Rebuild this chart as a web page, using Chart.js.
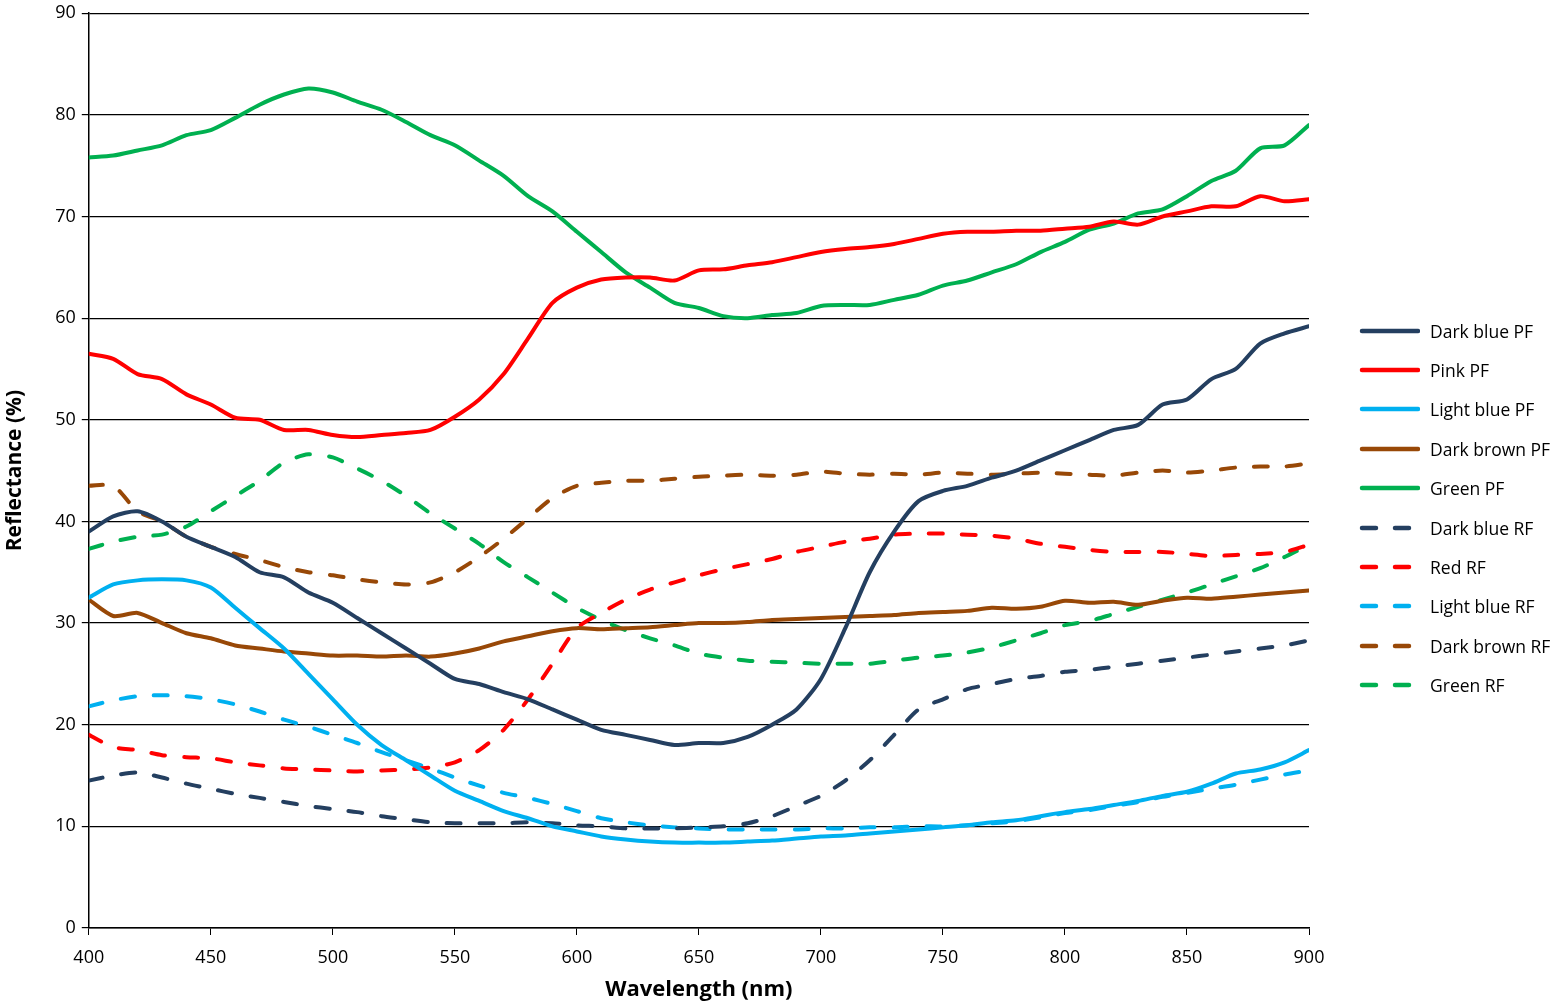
<!DOCTYPE html>
<html>
<head>
<meta charset="utf-8">
<script src="https://cdn.jsdelivr.net/npm/chart.js@4"></script>
<style>
  html, body { margin: 0; padding: 0; background: #fff; }
  #wrap { position: relative; width: 1561px; height: 1003px; }
  #leyenda { position: absolute; left: 1358px; top: 311px; font-family: "Open Sans", "DejaVu Sans", sans-serif; font-size: 17.5px; color: #000; }
  .item { height: 39.4px; display: flex; align-items: center; white-space: nowrap; }
  .item svg { width: 62px; height: 10px; margin-right: 10px; }
</style>
</head>
<body>
<div id="wrap"><canvas id="grafica"></canvas><div id="leyenda"></div></div>
<script>
// wavelength (nm), every 10 nm
const wavelengths = [400,410,420,430,440,450,460,470,480,490,500,510,520,530,540,550,560,570,580,590,600,610,620,630,640,650,660,670,680,690,700,710,720,730,740,750,760,770,780,790,800,810,820,830,840,850,860,870,880,890,900];

const darkBluePF  = [39,40.5,41,40,38.5,37.5,36.5,35,34.5,33,32,30.5,29,27.5,26,24.5,24,23.2,22.5,21.5,20.5,19.5,19,18.5,18,18.2,18.2,18.8,20,21.5,24.5,29.5,35,39,42,43,43.5,44.3,45,46,47,48,49,49.5,51.5,52,54,55,57.5,58.5,59.2];
const pinkPF      = [56.5,56,54.5,54,52.5,51.5,50.2,50,49,49,48.5,48.3,48.5,48.7,49,50.3,52,54.5,58,61.5,63,63.8,64,64,63.7,64.7,64.8,65.2,65.5,66,66.5,66.8,67,67.3,67.8,68.3,68.5,68.5,68.6,68.6,68.8,69,69.5,69.2,70,70.5,71,71,72,71.5,71.7];
const lightBluePF = [32.5,33.8,34.2,34.3,34.2,33.5,31.5,29.5,27.5,25,22.5,20,18,16.5,15,13.5,12.5,11.5,10.8,10,9.5,9,8.7,8.5,8.4,8.4,8.4,8.5,8.6,8.8,9,9.1,9.3,9.5,9.7,9.9,10.1,10.4,10.6,11,11.4,11.7,12.1,12.5,13,13.4,14.2,15.2,15.6,16.3,17.5];
const darkBrownPF = [32.3,30.7,31,30,29,28.5,27.8,27.5,27.2,27,26.8,26.8,26.7,26.8,26.7,27,27.5,28.2,28.7,29.2,29.5,29.4,29.5,29.6,29.8,30,30,30.1,30.3,30.4,30.5,30.6,30.7,30.8,31,31.1,31.2,31.5,31.4,31.6,32.2,32,32.1,31.8,32.2,32.5,32.4,32.6,32.8,33,33.2];
const greenPF     = [75.8,76,76.5,77,78,78.5,79.7,81,82,82.6,82.2,81.3,80.5,79.3,78,77,75.5,74,72,70.5,68.5,66.5,64.5,63,61.5,61,60.2,60,60.3,60.5,61.2,61.3,61.3,61.8,62.3,63.2,63.7,64.5,65.3,66.5,67.5,68.7,69.3,70.3,70.7,72,73.5,74.5,76.7,77,79];
const darkBlueRF  = [14.5,15,15.3,14.8,14.2,13.7,13.2,12.8,12.4,12,11.7,11.4,11,10.7,10.4,10.3,10.3,10.3,10.4,10.3,10.1,10,9.8,9.8,9.8,9.9,10,10.3,11,12,13,14.5,16.5,19,21.5,22.5,23.5,24,24.5,24.8,25.2,25.4,25.7,26,26.3,26.6,26.9,27.2,27.5,27.8,28.3];
const redRF       = [19,17.8,17.5,17,16.8,16.7,16.3,16,15.7,15.6,15.5,15.4,15.5,15.6,15.8,16.3,17.5,19.5,22.5,26,29.5,31,32.3,33.3,34,34.7,35.3,35.8,36.3,37,37.5,38,38.3,38.7,38.8,38.8,38.7,38.6,38.3,37.8,37.5,37.2,37,37,37,36.8,36.6,36.7,36.8,37,37.7];
const lightBlueRF = [21.8,22.4,22.8,22.9,22.8,22.5,22,21.3,20.5,19.8,19,18.2,17.3,16.5,15.7,14.8,14,13.3,12.8,12.2,11.5,10.8,10.4,10.1,9.9,9.8,9.7,9.7,9.7,9.7,9.8,9.8,9.9,9.9,10,10,10.1,10.3,10.5,10.9,11.3,11.6,12,12.4,12.9,13.3,13.7,14.1,14.6,15.1,15.5];
const darkBrownRF = [43.5,43.5,41,40,38.5,37.5,36.8,36.2,35.5,35,34.7,34.3,34,33.8,34,35,36.5,38.3,40.3,42.3,43.5,43.8,44,44,44.2,44.4,44.5,44.6,44.5,44.6,44.9,44.7,44.6,44.7,44.6,44.8,44.7,44.6,44.7,44.8,44.7,44.6,44.5,44.8,45,44.8,45,45.3,45.4,45.4,45.7];
const greenRF     = [37.3,38,38.5,38.7,39.5,41,42.5,44,45.8,46.6,46.3,45.2,44,42.5,40.8,39.3,37.8,36,34.5,33,31.5,30.3,29.3,28.5,27.8,27,26.6,26.3,26.2,26.1,26,26,26,26.3,26.6,26.8,27.1,27.6,28.3,29,29.8,30.2,30.9,31.6,32.3,33,33.8,34.6,35.4,36.5,37.7];

const seriesNames = ['Dark blue PF','Pink PF','Light blue PF','Dark brown PF','Green PF','Dark blue RF','Red RF','Light blue RF','Dark brown RF','Green RF'];
const seriesData  = [darkBluePF, pinkPF, lightBluePF, darkBrownPF, greenPF, darkBlueRF, redRF, lightBlueRF, darkBrownRF, greenRF];
const seriesColors = ['#243F60','#FF0000','#00B0F0','#984807','#00B050','#243F60','#FF0000','#00B0F0','#984807','#00B050'];

const datasets = seriesNames.map(function (name, i) {
    const dashed = name.endsWith('RF');
    return {
        label: name,
        data: wavelengths.map(function (w, j) { return { x: w, y: seriesData[i][j] }; }),
        borderColor: seriesColors[i],
        backgroundColor: seriesColors[i],
        borderWidth: 4,
        borderDash: dashed ? [14, 19] : [],
        borderCapStyle: 'round',
        borderJoinStyle: 'round',
        pointRadius: 0,
        tension: 0.25,
        fill: false
    };
});

// leyenda en HTML (muestras de línea con SVG)
const leyenda = document.getElementById('leyenda');
seriesNames.forEach(function (name, i) {
    const dash = name.endsWith('RF') ? ' stroke-dasharray="14 19"' : '';
    const div = document.createElement('div');
    div.className = 'item';
    div.innerHTML = '<svg viewBox="0 0 62 10"><line x1="4" y1="5" x2="60" y2="5" stroke="' + seriesColors[i] +
        '" stroke-width="4.5" stroke-linecap="round"' + dash + '/></svg><span>' + name + '</span>';
    leyenda.appendChild(div);
});

Chart.defaults.font.family = '"Open Sans", "DejaVu Sans", sans-serif';
Chart.defaults.color = '#000';

const ctx = document.getElementById('grafica').getContext('2d');
new Chart(ctx, {
    type: 'line',
    data: { datasets: datasets },
    options: {
        responsive: true,
        maintainAspectRatio: false,
        animation: false,
        layout: { padding: { top: 0, right: 252, left: 0, bottom: 0 } },
        plugins: {
            legend: { display: false },
            tooltip: { enabled: false }
        },
        scales: {
            x: {
                type: 'linear',
                min: 400,
                max: 900,
                ticks: { stepSize: 50, font: { size: 18, lineHeight: 0.8 }, padding: 16 },
                grid: { drawOnChartArea: false, color: '#000', tickLength: 7 },
                border: { color: '#000', width: 1.5 },
                title: { display: true, text: 'Wavelength (nm)', font: { size: 22, weight: 'bold', lineHeight: 0.8 }, padding: { top: 0 } }
            },
            y: {
                min: 0,
                max: 90,
                ticks: { stepSize: 10, font: { size: 18, lineHeight: 0.8 }, padding: 6 },
                grid: { color: '#000', lineWidth: 1.2, tickLength: 7 },
                border: { color: '#000', width: 1.5 },
                title: { display: true, text: 'Reflectance (%)', font: { size: 21, weight: 'bold' }, padding: { top: 2, bottom: 22 } }
            }
        }
    }
});
</script>
</body>
</html>
